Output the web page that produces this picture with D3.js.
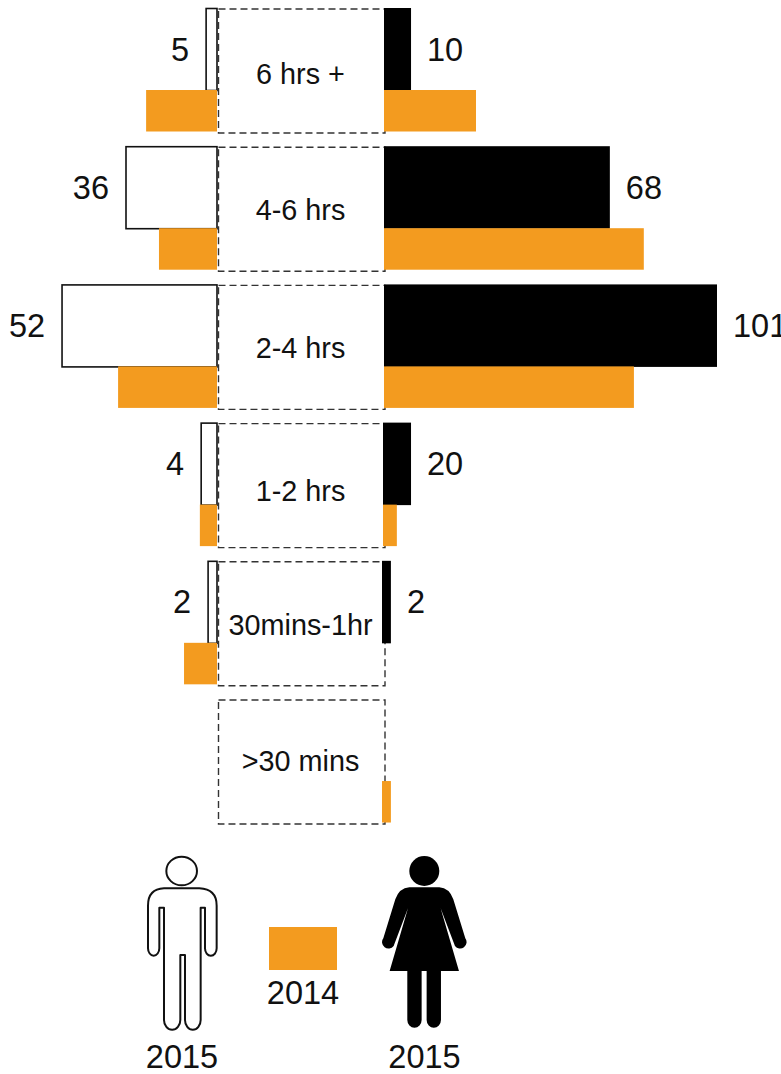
<!DOCTYPE html>
<html>
<head>
<meta charset="utf-8">
<script src="https://cdn.jsdelivr.net/npm/d3@7"></script>
<style>
  html, body { margin: 0; padding: 0; background: #fff; }
  svg { display: block; }
  text { font-family: "Liberation Sans", Arial, sans-serif; fill: #111; }
</style>
</head>
<body>
<svg id="chart"></svg>
<script>
// bar lengths, the printed labels do not always agree with them
const categories = ["6 hrs +", "4-6 hrs", "2-4 hrs", "1-2 hrs", "30mins-1hr", ">30 mins"];
const men2015 = [3.3, 27.6, 47, 4.8, 2.7, 0];
const women2015 = [8.2, 68.5, 101, 8.5, 2.7, 0];
const men2014 = [21.5, 17.6, 30, 5.2, 10, 0];
const women2014 = [27.9, 78.8, 75.8, 4.2, 0, 2.7];
const menLabels = ["5", "36", "52", "4", "2", ""];
const womenLabels = ["10", "68", "101", "20", "2", ""];
const legendLabels = ["2015", "2014", "2015"];

const width = 781, height = 1074;
const orange = "#f39b1f";

const svg = d3.select("#chart").attr("width", width).attr("height", height);

const y = d3.scaleBand().domain(categories).range([8.5, 823.5]).paddingInner(0.103);
const xRight = d3.scaleLinear().domain([0, 101]).range([384, 717]);
const xLeft = d3.scaleLinear().domain([0, 101]).range([217, -116]);

const topH = 82, lowH = 41.5;
// the right hand bars drift a little to the left further down the chart
const rightShift = [0, 0, 0, -1, -2, -2];
const labelDy = [75.5, 73, 73, 78, 74, 71];

const rows = categories.map((c, i) => ({
  cat: c, i: i,
  m15: men2015[i], w15: women2015[i], m14: men2014[i], w14: women2014[i],
  ml: menLabels[i], wl: womenLabels[i]
}));

// dashed centre boxes
svg.append("g").selectAll("rect").data(rows).enter().append("rect")
  .attr("x", 218.5)
  .attr("y", d => y(d.cat) + 0.5)
  .attr("width", 166.5)
  .attr("height", y.bandwidth())
  .attr("fill", "none")
  .attr("stroke", "#333")
  .attr("stroke-width", 1.4)
  .attr("stroke-dasharray", "7,4");

// 2015 men, outlined
svg.append("g").selectAll("rect").data(rows.filter(d => d.m15 > 0)).enter().append("rect")
  .attr("x", d => xLeft(d.m15))
  .attr("y", d => y(d.cat))
  .attr("width", d => xLeft(0) - xLeft(d.m15))
  .attr("height", topH)
  .attr("fill", "#fff")
  .attr("stroke", "#111")
  .attr("stroke-width", 1.6);

// 2015 women, solid
svg.append("g").selectAll("rect").data(rows.filter(d => d.w15 > 0)).enter().append("rect")
  .attr("x", d => xRight(0) + rightShift[d.i])
  .attr("y", d => y(d.cat) - 0.5)
  .attr("width", d => xRight(d.w15) - xRight(0))
  .attr("height", topH + 0.5)
  .attr("fill", "#000");

// 2014 both sides
svg.append("g").selectAll("rect").data(rows.filter(d => d.m14 > 0)).enter().append("rect")
  .attr("x", d => xLeft(d.m14))
  .attr("y", d => y(d.cat) + topH - 0.5)
  .attr("width", d => xLeft(0) - xLeft(d.m14))
  .attr("height", lowH)
  .attr("fill", orange);

svg.append("g").selectAll("rect").data(rows.filter(d => d.w14 > 0)).enter().append("rect")
  .attr("x", d => xRight(0) + rightShift[d.i])
  .attr("y", d => y(d.cat) + topH - 0.5)
  .attr("width", d => xRight(d.w14) - xRight(0))
  .attr("height", lowH)
  .attr("fill", orange);

// category names
svg.append("g").selectAll("text").data(rows).enter().append("text")
  .attr("x", 300.5)
  .attr("y", d => y(d.cat) + labelDy[d.i])
  .attr("text-anchor", "middle")
  .style("font-size", "28.8px")
  .text(d => d.cat);

// value labels
svg.append("g").selectAll("text").data(rows).enter().append("text")
  .attr("x", d => xLeft(d.m15) - 17)
  .attr("y", d => y(d.cat) + 52)
  .attr("text-anchor", "end")
  .style("font-size", "32.5px")
  .text(d => d.ml);

svg.append("g").selectAll("text").data(rows).enter().append("text")
  .attr("x", d => xRight(d.w15) + rightShift[d.i] + 16)
  .attr("y", d => y(d.cat) + 52)
  .style("font-size", "32.5px")
  .text(d => d.wl);

// legend, icons are sketched in a 3x space
const icons = svg.append("g").attr("transform", "translate(120,840) scale(0.3333)");

icons.append("ellipse")
  .attr("cx", 185).attr("cy", 93).attr("rx", 46).attr("ry", 43)
  .attr("fill", "#fff").attr("stroke", "#111").attr("stroke-width", 6);

icons.append("path")
  .attr("d", "M132,145 L238,145 Q290,147 290,197 L290,325 A17,22 0 0 1 255,325 L255,203 L242,203 L242,540 A23,29 0 0 1 195,540 L195,345 L181,345 L181,540 A24,29 0 0 1 132,540 L132,203 L118,203 L118,325 A17,22 0 0 1 84,325 L84,197 Q84,147 132,145 Z")
  .attr("fill", "#fff").attr("stroke", "#111").attr("stroke-width", 6).attr("stroke-linejoin", "round");

icons.append("circle")
  .attr("cx", 913).attr("cy", 93).attr("r", 45)
  .attr("fill", "#000");

icons.append("path")
  .attr("d", "M868,142 L958,142 Q988,144 1000,178 L1036,295 A17,17 0 0 1 1005,318 L962,205 L1017,393 L963,393 L963,540 A21.5,23 0 0 1 920,540 L920,393 L905,393 L905,540 A21.5,23 0 0 1 862,540 L862,393 L809,393 L864,205 L821,318 A17,17 0 0 1 790,295 L826,178 Q838,144 868,142 Z")
  .attr("fill", "#000");

svg.append("rect")
  .attr("x", 269).attr("y", 927).attr("width", 68).attr("height", 43)
  .attr("fill", orange);

svg.append("g").selectAll("text").data(legendLabels).enter().append("text")
  .attr("x", (d, i) => [182, 303, 424.5][i])
  .attr("y", (d, i) => [1068, 1004, 1068][i])
  .attr("text-anchor", "middle")
  .style("font-size", "32.5px")
  .text(d => d);
</script>
</body>
</html>
